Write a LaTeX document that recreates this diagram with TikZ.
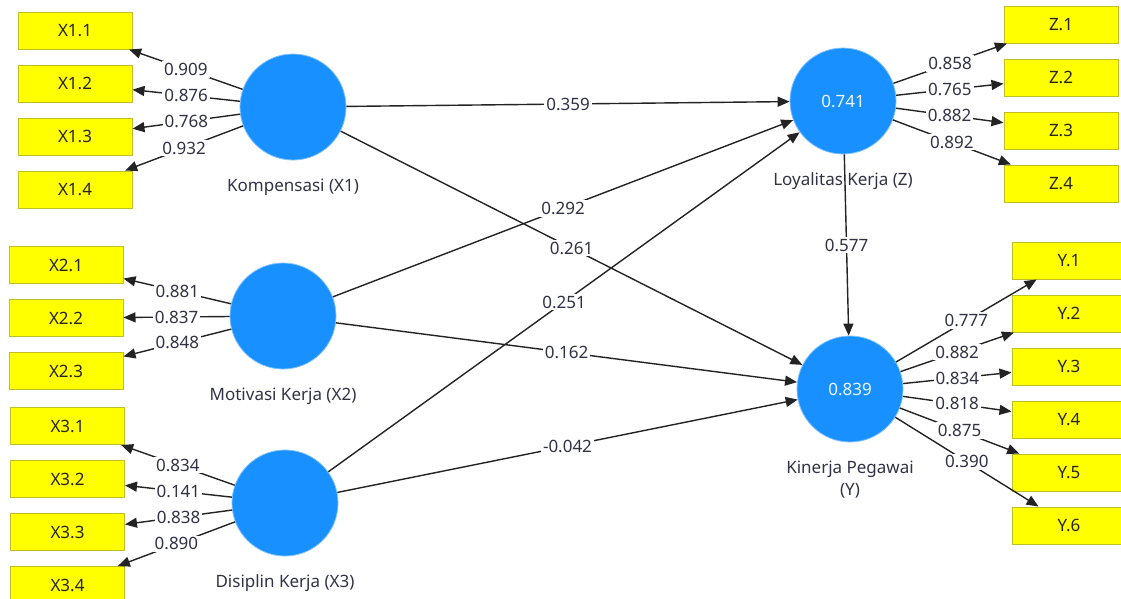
\documentclass[tikz,border=0pt]{standalone}
\usepackage{fontspec}
\setsansfont{Noto Sans}
\usetikzlibrary{arrows.meta, positioning}
\definecolor{latentcolor}{RGB}{24, 144, 255}
\definecolor{itemcolor}{RGB}{255, 255, 0}
\definecolor{itemborder}{RGB}{190, 190, 40}
\definecolor{linecolor}{RGB}{35, 35, 35}
\definecolor{textcolor}{RGB}{50, 50, 70}
\tikzstyle{latent} = [
    circle,
    minimum size=106pt,
    inner sep=0pt,
    fill=latentcolor,
    draw=latentcolor!55,
    line width=0.8pt,
    text=white!92!latentcolor
]
\tikzstyle{itembox} = [
    rectangle,
    minimum width=114pt,
    minimum height=37pt,
    inner sep=0pt,
    fill=itemcolor,
    draw=itemborder,
    line width=1pt,
    text=black!85
]
\tikzstyle{arrow} = [
    -{Triangle[length=12pt, width=10pt]},
    line width=1.4pt,
    color=linecolor
]
\tikzstyle{coef} = [
    fill=white,
    inner sep=2pt,
    text=textcolor,
    pos=0.5
]
\tikzstyle{latentlabel} = [
    inner sep=2pt,
    align=center,
    text=textcolor
]

\begin{document}
\begin{tikzpicture}[x=1pt, y=-1pt, font=\sffamily\fontsize{17}{20}\selectfont]

\useasboundingbox (0, 0) rectangle (1121, 598);

% Latent variables
\node[latent] (kompensasi) at (293, 107) {};
\node[latent] (motivasi) at (283, 316) {};
\node[latent] (disiplin) at (285, 503) {};
\node[latent] (loyalitas) at (843, 101) {0.741};
\node[latent] (kinerja) at (850, 389) {0.839};

\node[latentlabel, below=16pt of kompensasi] (kompensasilabel) {Kompensasi (X1)};
\node[latentlabel, below=16pt of motivasi] (motivasilabel) {Motivasi Kerja (X2)};
\node[latentlabel, below=16pt of disiplin] (disiplinlabel) {Disiplin Kerja (X3)};
\node[latentlabel, below=16pt of loyalitas] (loyalitaslabel) {Loyalitas Kerja (Z)};
\node[latentlabel, below=16pt of kinerja] (kinerjalabel) {Kinerja Pegawai\\[2pt](Y)};

% Indicators X1
\node[itembox] (x11) at (75, 30.5) {X1.1};
\node[itembox, below=15pt of x11] (x12) {X1.2};
\node[itembox, below=15pt of x12] (x13) {X1.3};
\node[itembox, below=15pt of x13] (x14) {X1.4};

% Indicators X2
\node[itembox] (x21) at (66, 265) {X2.1};
\node[itembox, below=15pt of x21] (x22) {X2.2};
\node[itembox, below=15pt of x22] (x23) {X2.3};

% Indicators X3
\node[itembox] (x31) at (67.5, 426) {X3.1};
\node[itembox, below=15pt of x31] (x32) {X3.2};
\node[itembox, below=15pt of x32] (x33) {X3.3};
\node[itembox, below=15pt of x33] (x34) {X3.4};

% Indicators Z
\node[itembox] (z1) at (1061, 24.5) {Z.1};
\node[itembox, below=15pt of z1] (z2) {Z.2};
\node[itembox, below=15pt of z2] (z3) {Z.3};
\node[itembox, below=15pt of z3] (z4) {Z.4};

% Indicators Y
\node[itembox] (y1) at (1069, 260.5) {Y.1};
\node[itembox, below=15pt of y1] (y2) {Y.2};
\node[itembox, below=15pt of y2] (y3) {Y.3};
\node[itembox, below=15pt of y3] (y4) {Y.4};
\node[itembox, below=15pt of y4] (y5) {Y.5};
\node[itembox, below=15pt of y5] (y6) {Y.6};

% Outer loadings
\draw[arrow] (kompensasi) -- node[coef] {0.909} (x11);
\draw[arrow] (kompensasi) -- node[coef] {0.876} (x12);
\draw[arrow] (kompensasi) -- node[coef] {0.768} (x13);
\draw[arrow] (kompensasi) -- node[coef] {0.932} (x14);

\draw[arrow] (motivasi) -- node[coef] {0.881} (x21);
\draw[arrow] (motivasi) -- node[coef] {0.837} (x22);
\draw[arrow] (motivasi) -- node[coef] {0.848} (x23);

\draw[arrow] (disiplin) -- node[coef] {0.834} (x31);
\draw[arrow] (disiplin) -- node[coef] {0.141} (x32);
\draw[arrow] (disiplin) -- node[coef] {0.838} (x33);
\draw[arrow] (disiplin) -- node[coef] {0.890} (x34);

\draw[arrow] (loyalitas) -- node[coef] {0.858} (z1);
\draw[arrow] (loyalitas) -- node[coef] {0.765} (z2);
\draw[arrow] (loyalitas) -- node[coef] {0.882} (z3);
\draw[arrow] (loyalitas) -- node[coef] {0.892} (z4);

\draw[arrow] (kinerja) -- node[coef] {0.777} (y1);
\draw[arrow] (kinerja) -- node[coef] {0.882} (y2);
\draw[arrow] (kinerja) -- node[coef] {0.834} (y3);
\draw[arrow] (kinerja) -- node[coef] {0.818} (y4);
\draw[arrow] (kinerja) -- node[coef] {0.875} (y5);
\draw[arrow] (kinerja) -- node[coef] {0.390} (y6);

% Path coefficients
\draw[arrow] (kompensasi) -- node[coef] {0.359} (loyalitas);
\draw[arrow] (kompensasi) -- node[coef] {0.261} (kinerja);
\draw[arrow] (motivasi) -- node[coef] {0.292} (loyalitas);
\draw[arrow] (motivasi) -- node[coef] {0.162} (kinerja);
\draw[arrow] (disiplin) -- node[coef] {0.251} (loyalitas);
\draw[arrow] (disiplin) -- node[coef] {-0.042} (kinerja);
\draw[arrow] (loyalitas) -- node[coef] {0.577} (kinerja);

\end{tikzpicture}
\end{document}
